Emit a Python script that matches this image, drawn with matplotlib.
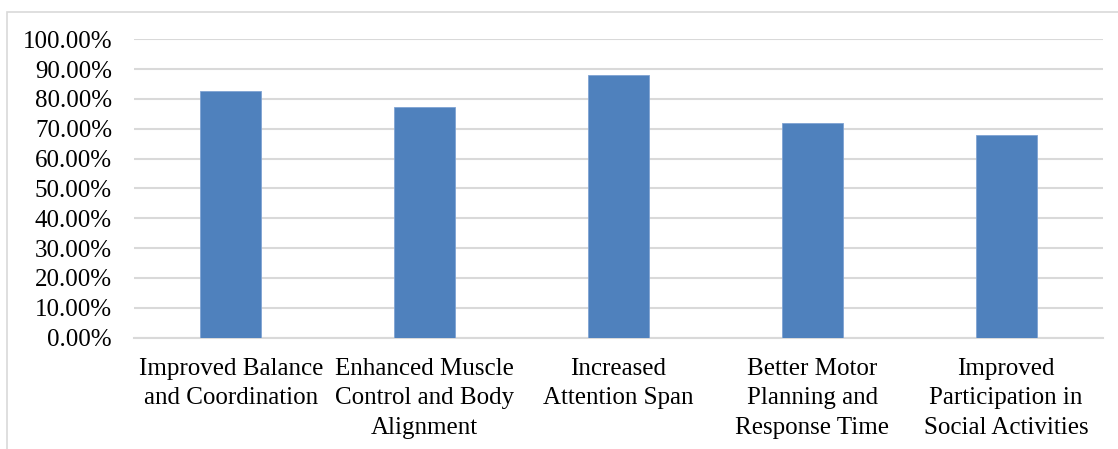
import matplotlib
matplotlib.use("Agg")
import matplotlib.pyplot as plt
from matplotlib.ticker import FuncFormatter
from matplotlib.patches import Rectangle

categories = ["Improved Balance\nand Coordination",
              "Enhanced Muscle\nControl and Body\nAlignment",
              "Increased\nAttention Span",
              "Better Motor\nPlanning and\nResponse Time",
              "Improved\nParticipation in\nSocial Activities"]
values = [0.827, 0.772, 0.880, 0.719, 0.680]
yticks = [0.0, 0.1, 0.2, 0.3, 0.4, 0.5, 0.6, 0.7, 0.8, 0.9, 1.0]

plt.rcParams['font.family'] = ['Liberation Serif', 'DejaVu Serif']

fig = plt.figure(figsize=(11.18, 4.49), dpi=100)
ax = fig.add_axes([134/1118, 1 - 337.5/449, (1103-134)/1118, (337.5-39.3)/449])

# outer chart frame
fig.patches.append(Rectangle((6.5/1118, -0.1), 1.2, 1 - 12/449 + 0.1,
                             transform=fig.transFigure, fill=False,
                             edgecolor='#d9d9d9', linewidth=1.2))

x = range(len(categories))
ax.bar(x, values, width=0.315, color='#4f81bd', edgecolor='#7fa3d3', linewidth=0.6, zorder=3)

ax.set_ylim(0, 1.0)
ax.set_xlim(-0.5, len(categories) - 0.5)
ax.set_yticks(yticks)
ax.yaxis.set_major_formatter(FuncFormatter(lambda v, p: "%.2f%%" % (v * 100)))
ax.set_xticks(list(x))
ax.set_xticklabels(categories, multialignment='center', linespacing=1.42)
ax.tick_params(axis='y', length=0, pad=15.8, labelsize=18)
ax.tick_params(axis='x', length=0, pad=15, labelsize=18)

ax.grid(axis='y', color='#d9d9d9', linewidth=1.5, zorder=0)
for s in ['top', 'right', 'left']:
    ax.spines[s].set_visible(False)
ax.spines['bottom'].set_color('#d9d9d9')
ax.spines['bottom'].set_linewidth(1.5)

fig.savefig("out.png", dpi=100)
